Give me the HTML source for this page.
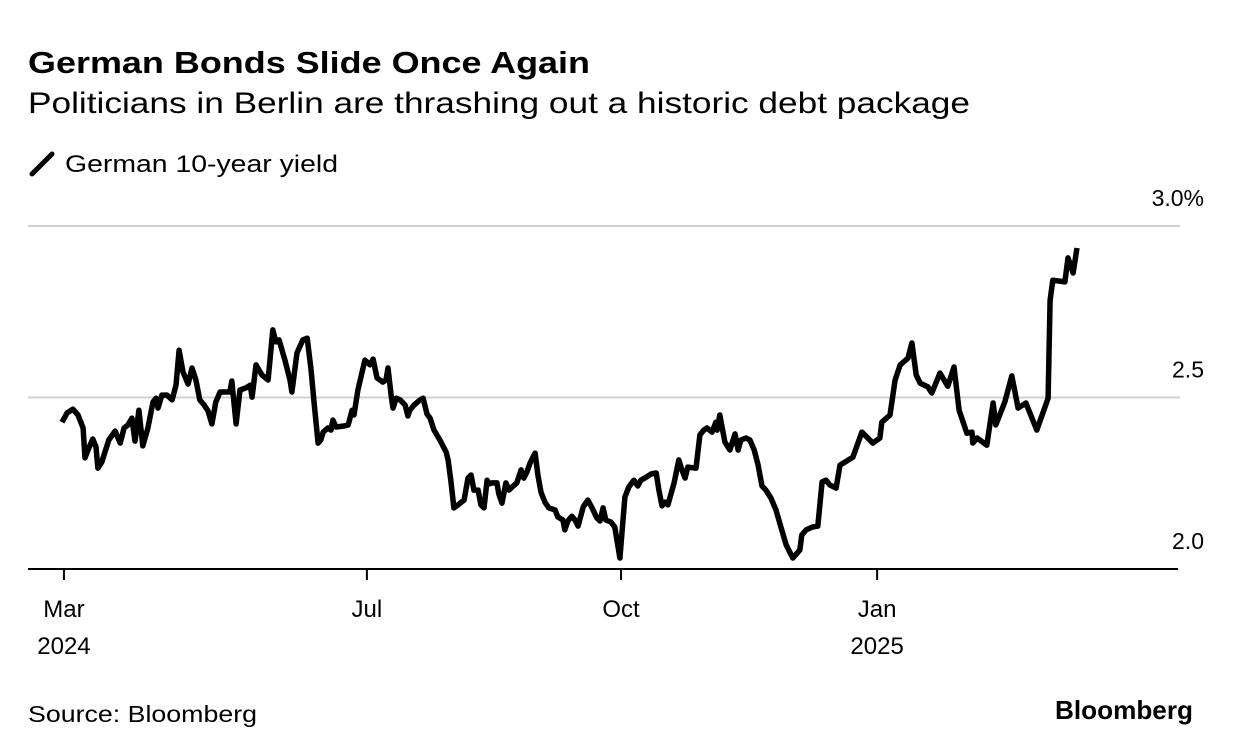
<!DOCTYPE html>
<html><head><meta charset="utf-8">
<style>
body{margin:0;background:#fff;font-family:"Liberation Sans",sans-serif;}
svg{display:block}
text{font-family:"Liberation Sans",sans-serif;fill:#000}
</style></head>
<body>
<svg id="chart" width="1233" height="754">
<text x="28" y="73" font-size="31" font-weight="bold" textLength="562" lengthAdjust="spacingAndGlyphs">German Bonds Slide Once Again</text>
<text x="28" y="113" font-size="30" textLength="942" lengthAdjust="spacingAndGlyphs">Politicians in Berlin are thrashing out a historic debt package</text>
<g>
<line x1="32" y1="174" x2="52" y2="154" stroke="#000" stroke-width="5" stroke-linecap="round"/>
<text x="65" y="172" font-size="24" textLength="273" lengthAdjust="spacingAndGlyphs">German 10-year yield</text>
</g>
<g id="grid"></g><g id="xaxis"></g>
<path id="line" fill="none" stroke="#000" stroke-width="5.5" stroke-linejoin="round"/>
<text x="28" y="722" font-size="23" textLength="229" lengthAdjust="spacingAndGlyphs">Source: Bloomberg</text>
<text x="1055" y="719" font-size="26" font-weight="bold" textLength="138" lengthAdjust="spacingAndGlyphs">Bloomberg</text>
</svg>
<script>
const days=[0,1.3,2.8,4.1,5.4,5.9,6.9,7.9,8.7,9.2,10.2,12,13.6,14.9,15.9,16.9,17.9,18.7,19.7,20.7,22,23.3,24.1,24.6,25.6,26.9,28.2,29.2,30,31,32.3,33.3,34.3,35.3,36.4,37.4,38.4,39.4,40.5,42,43,43.5,44.6,45.6,47.1,48.2,48.7,49.7,51.2,52.8,54,54.8,55.6,57.1,58.4,58.9,60.2,61.7,62.8,63.8,64.5,65.6,66.3,66.9,68.1,68.9,69.4,70.2,72.2,73.3,74.3,74.8,75.8,77.6,78.9,79.7,80.7,82.2,83,83.5,84.3,84.8,85.6,86.6,87.9,88.6,89.1,90.2,91.7,92.5,93.5,94.3,95.3,96.8,98.4,98.9,99.6,100.4,101.4,103,104,104.8,105.5,106.6,107.3,108.1,108.9,109.4,110.1,111.4,111.9,112.7,113.7,114.5,115.3,116.5,117.6,118.3,119.1,119.9,121.2,121.9,122.7,123.7,124.7,126.3,127,128.3,128.8,129.6,130.6,131.4,132.2,133.5,134.7,135.8,137,137.8,138.6,139.3,140.6,141.6,142.9,144.2,145.2,146.5,147.5,148.3,149.3,150.9,152.2,152.9,153.7,154.5,155.2,156.8,158,158.8,159.6,160.3,162.4,163.4,164.4,165.2,166.5,167.5,167.8,168.5,169.8,171.1,172.4,173.2,173.9,175.2,176.2,177.3,178.3,179.3,180.3,181.6,182.9,184.2,185.5,187.2,189,189.5,190.6,192.1,193.6,194.7,195.7,196.7,198.3,199.3,202.6,204.9,207.7,209.5,210,212.1,213.4,214.7,216.7,217.7,218.8,219.8,221.8,222.8,224.9,226.9,228.5,229.8,231.8,233.1,233.3,234.4,236.9,238.5,239.2,241.5,243.3,244.9,246.9,249.7,252.6,253.1,253.8,256.9,257.7,259,260];
const yields=[2.428,2.455,2.466,2.449,2.411,2.324,2.353,2.379,2.356,2.294,2.312,2.376,2.402,2.367,2.411,2.420,2.440,2.373,2.463,2.359,2.411,2.487,2.498,2.469,2.507,2.507,2.493,2.536,2.638,2.574,2.539,2.586,2.551,2.493,2.478,2.461,2.423,2.487,2.516,2.516,2.516,2.548,2.423,2.522,2.528,2.536,2.501,2.595,2.566,2.551,2.697,2.662,2.668,2.609,2.551,2.516,2.630,2.668,2.673,2.580,2.493,2.367,2.376,2.399,2.411,2.405,2.434,2.414,2.417,2.420,2.463,2.449,2.522,2.609,2.595,2.612,2.557,2.545,2.551,2.586,2.507,2.469,2.498,2.493,2.478,2.446,2.463,2.478,2.493,2.498,2.452,2.440,2.405,2.376,2.341,2.318,2.259,2.178,2.187,2.201,2.265,2.274,2.230,2.230,2.187,2.178,2.259,2.248,2.251,2.251,2.219,2.192,2.251,2.230,2.239,2.251,2.289,2.265,2.283,2.309,2.338,2.274,2.224,2.195,2.178,2.172,2.152,2.143,2.114,2.140,2.154,2.143,2.125,2.181,2.201,2.178,2.149,2.140,2.178,2.143,2.137,2.122,2.032,2.210,2.239,2.259,2.242,2.259,2.265,2.277,2.280,2.230,2.184,2.195,2.187,2.251,2.318,2.289,2.265,2.297,2.294,2.391,2.405,2.411,2.399,2.428,2.405,2.449,2.370,2.347,2.394,2.347,2.376,2.382,2.376,2.347,2.303,2.242,2.230,2.207,2.172,2.120,2.070,2.032,2.055,2.099,2.114,2.122,2.125,2.254,2.259,2.245,2.236,2.303,2.326,2.399,2.367,2.382,2.428,2.449,2.551,2.595,2.615,2.659,2.566,2.542,2.531,2.513,2.571,2.533,2.589,2.463,2.396,2.399,2.367,2.382,2.361,2.484,2.420,2.487,2.563,2.469,2.484,2.405,2.498,2.784,2.842,2.837,2.907,2.863,2.936];
const yTicks=[2.0,2.5,3.0];
const yTickLabels=["2.0","2.5","3.0%"];
const xTickDays=[0.5,78.1,143.2,208.8];
const xTickMonths=["Mar","Jul","Oct","Jan"];
const xTickYears=["2024","","","2025"];

const NS="http://www.w3.org/2000/svg";
const xS=d=>62+d*(1077-62)/260;
const yS=v=>569-(v-2)*343;
const grid=document.getElementById('grid'),xa=document.getElementById('xaxis');
function mk(tag,attrs,parent){const e=document.createElementNS(NS,tag);for(const k in attrs)e.setAttribute(k,attrs[k]);parent.appendChild(e);return e;}
yTicks.forEach((v,i)=>{
  if(v>2){const l=mk('line',{x1:28,x2:1180,y1:yS(v),y2:yS(v),stroke:'#d0d0d0','stroke-width':2},grid);
  
  }
  const t=mk('text',{x:1204,y:yS(v)-20,'font-size':23,'text-anchor':'end'},grid);
  t.textContent=yTickLabels[i];
  
  
});
const base=mk('line',{x1:28,x2:1178,y1:569,y2:569,stroke:'#000','stroke-width':2},xa);


xTickDays.forEach((d,i)=>{
  const x=xS(d);
  const tk=mk('line',{x1:x,x2:x,y1:569,y2:580,stroke:'#000','stroke-width':2},xa);
  
  
  const t=mk('text',{x:x,y:617,'font-size':24,'text-anchor':'middle'},xa);
  t.textContent=xTickMonths[i];
  
  
  if(xTickYears[i]){const y=mk('text',{x:x,y:654,'font-size':24,'text-anchor':'middle'},xa);
  y.textContent=xTickYears[i];
  
  }
});
document.getElementById('line').setAttribute('d',days.map((d,i)=>(i?'L':'M')+xS(d).toFixed(1)+','+yS(yields[i]).toFixed(1)).join(''));
</script>
</body></html>
